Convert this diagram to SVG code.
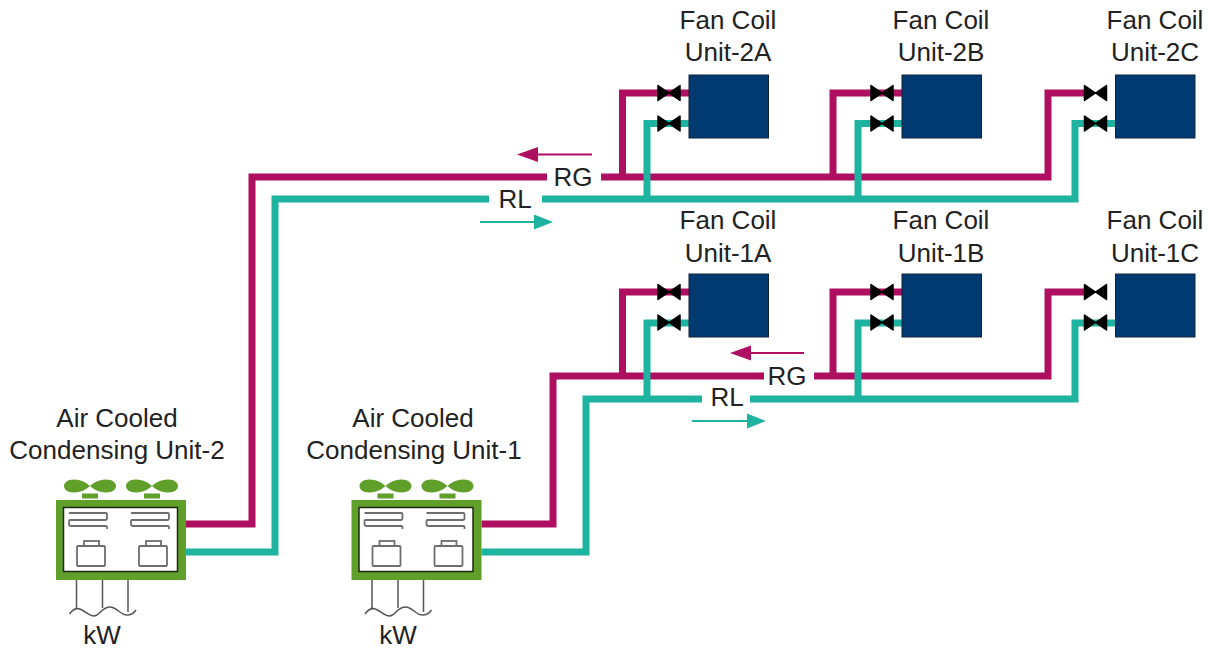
<svg xmlns="http://www.w3.org/2000/svg" width="1211" height="650" viewBox="0 0 1211 650">
<style>
text{font-family:"Liberation Sans",Arial,sans-serif;font-size:26px;fill:#222;text-anchor:middle}
.rg{fill:none;stroke:#ae0f60;stroke-width:7;stroke-linejoin:miter}
.rl{fill:none;stroke:#1db3a0;stroke-width:7;stroke-linejoin:miter}
.fc{fill:#003a70;stroke:#12233a;stroke-width:1}
.gr{fill:none;stroke:#6e6e6e;stroke-width:1.8}
.wire{fill:none;stroke:#555;stroke-width:1.5}
.fan{fill:#5f9f2a}
</style>
<defs>
<g id="valve"><path d="M-11,-7.500 L0,0 L-11,7.500Z M11,-7.500 L0,0 L11,7.500Z" fill="#000" stroke="#000" stroke-width="1.500" stroke-linejoin="round"/></g>
<g id="fanblade"><path class="fan" d="M0,0 C-2,-2 -8,-6.500 -16,-6.500 C-23,-6.500 -26,-3 -26,0 C-26,3 -23,6.500 -16,6.500 C-8,6.500 -2,2 0,0 C2,-2 8,-6.500 16,-6.500 C23,-6.500 26,-3 26,0 C26,3 23,6.500 16,6.500 C8,6.500 2,2 0,0Z"/><rect class="fan" x="-8" y="7.500" width="16" height="5"/></g>
<g id="coil"><path class="gr" d="M0,1 H37 Q38,1 38,3 V6 Q38,8 36,8 H1 Q0,8 0,9.500 V12 Q0,14 2,14 H37 Q38,14 38,15 V17"/></g>
<g id="comp"><rect class="gr" x="0" y="5" width="28" height="20" rx="1"/><rect class="gr" x="7" y="0" width="15" height="5" fill="#fff"/></g>
<g id="condenser">
<rect x="56" y="500" width="130" height="80" fill="#5f9f2a"/>
<rect x="63.500" y="507.500" width="114" height="64" fill="#fff" stroke="#1c2a12" stroke-width="1.500"/>
<use href="#fanblade" x="90" y="486"/><use href="#fanblade" x="152" y="486"/>
<use href="#coil" x="69" y="512"/><use href="#coil" x="131" y="512"/>
<use href="#comp" x="77" y="541"/><use href="#comp" x="139" y="541"/>
<path class="wire" d="M76.500,580 V608 M102.500,580 V608 M128,580 V612 M69.500,614 C73,609 77,607 82,610 C87,613 92,618 97,615 C101,612 104,607 110,607 C117,607 120,615 127,615 C131,615 134,613 136,610"/>
</g>
<g id="coilunit">
<rect class="fc" x="0" y="0" width="79.500" height="63"/>
<use href="#valve" x="-20" y="18"/><use href="#valve" x="-20" y="48.500"/>
</g>
</defs>
<g id="connectors">
<path class="rg" d="M186,524 H252 V177 H547 M601,177 H1048 V93 H1090"/>
<path class="rg" d="M622.500,177 V93 H690 M833,177 V93 H903"/>
<path class="rl" d="M186,552 H275 V199 H489 M542,199 H1075 V123.500 H1116"/>
<path class="rl" d="M647,199 V123.500 H690 M858,199 V123.500 H903"/>
<path class="rg" d="M481.500,524 H553 V376 H764 M814,376 H1048 V292 H1090"/>
<path class="rg" d="M622.500,376 V292 H690 M833,376 V292 H903"/>
<path class="rl" d="M481.500,552 H586 V399 H702 M750,399 H1075 V323 H1116"/>
<path class="rl" d="M647,399 V323 H690 M858,399 V323 H903"/>
<g id="flow-arrows">
<path d="M592,154.500 H530" stroke="#ae0f60" stroke-width="2" fill="none"/><path d="M517,154.500 L538,147 V162Z" fill="#ae0f60"/>
<path d="M480,222 H540" stroke="#1db3a0" stroke-width="2" fill="none"/><path d="M553,222 L534,214.500 V229.500Z" fill="#1db3a0"/>
<path d="M804,353 H742" stroke="#ae0f60" stroke-width="2" fill="none"/><path d="M730,353 L751,345.500 V360.500Z" fill="#ae0f60"/>
<path d="M692,421 H752" stroke="#1db3a0" stroke-width="2" fill="none"/><path d="M766,421 L747,413.500 V428.500Z" fill="#1db3a0"/>
</g>
</g>
<g id="fcu-2a"><use href="#coilunit" x="689" y="75"/><text x="728" y="29">Fan Coil</text><text x="728" y="61">Unit-2A</text></g>
<g id="fcu-2b"><use href="#coilunit" x="902" y="75"/><text x="941" y="29">Fan Coil</text><text x="941" y="61">Unit-2B</text></g>
<g id="fcu-2c"><use href="#coilunit" x="1115.500" y="75"/><text x="1155" y="29">Fan Coil</text><text x="1155" y="61">Unit-2C</text></g>
<g id="fcu-1a"><use href="#coilunit" x="689" y="274"/><text x="728" y="229">Fan Coil</text><text x="728" y="262">Unit-1A</text></g>
<g id="fcu-1b"><use href="#coilunit" x="902" y="274"/><text x="941" y="229">Fan Coil</text><text x="941" y="262">Unit-1B</text></g>
<g id="fcu-1c"><use href="#coilunit" x="1115.500" y="274"/><text x="1155" y="229">Fan Coil</text><text x="1155" y="262">Unit-1C</text></g>
<g id="condenser-2"><use href="#condenser"/><text x="117" y="427">Air Cooled</text><text x="117" y="459">Condensing Unit-2</text><text x="102" y="644">kW</text></g>
<g id="condenser-1"><use href="#condenser" x="295.500"/><text x="413" y="427">Air Cooled</text><text x="414" y="459">Condensing Unit-1</text><text x="398" y="644">kW</text></g>
<g id="labels"><text x="573" y="186">RG</text><text x="515" y="208">RL</text><text x="787" y="385">RG</text><text x="727" y="406">RL</text></g>
</svg>
